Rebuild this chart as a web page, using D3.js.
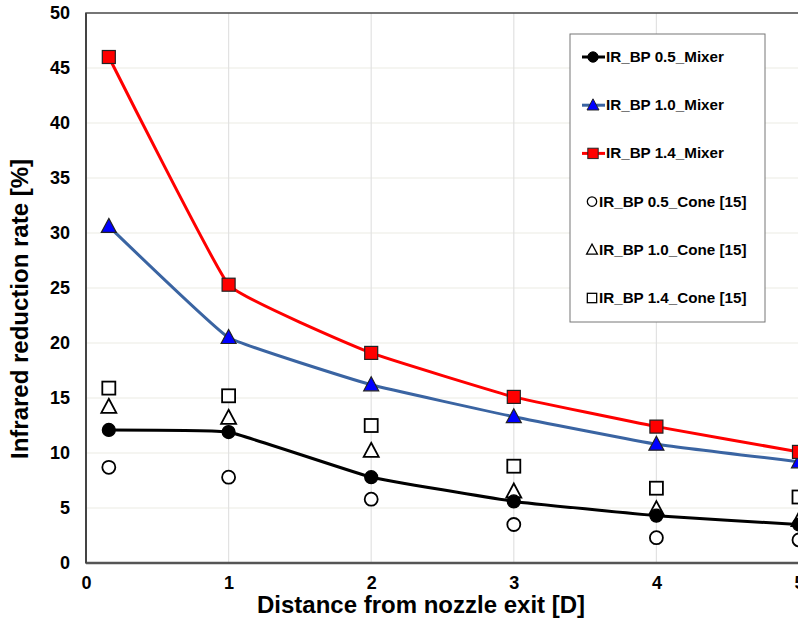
<!DOCTYPE html>
<html>
<head>
<meta charset="utf-8">
<script src="https://cdn.jsdelivr.net/npm/d3@7"></script>
<style>
  body { margin: 0; background: #fff; }
  text { font-family: Arial, "Liberation Sans", sans-serif; font-weight: bold; }
</style>
</head>
<body>
<div id="chart"></div>
<script>
const distances = [0.16, 1, 2, 3, 4, 5];
const mixer05 = [12.1, 11.9, 7.8, 5.6, 4.3, 3.5];
const mixer10 = [30.6, 20.5, 16.2, 13.3, 10.8, 9.2];
const mixer14 = [46.0, 25.3, 19.1, 15.1, 12.4, 10.1];
const cone05 = [8.7, 7.8, 5.8, 3.5, 2.3, 2.1];
const cone10 = [14.2, 13.2, 10.2, 6.5, 4.9, 3.9];
const cone14 = [15.9, 15.2, 12.5, 8.8, 6.8, 6.0];
const xTicks = [0, 1, 2, 3, 4, 5];
const yTicks = [0, 5, 10, 15, 20, 25, 30, 35, 40, 45, 50];

const WIDTH = 798;
const HEIGHT = 625;
const MARGIN = { top: 13, right: -1, bottom: 62, left: 86 };

const series = [
    { name: "IR_BP 0.5_Mixer", values: mixer05, line: "#000", fill: "#000", shape: "circle" },
    { name: "IR_BP 1.0_Mixer", values: mixer10, line: "#3a64a2", fill: "#0000ff", shape: "triangle" },
    { name: "IR_BP 1.4_Mixer", values: mixer14, line: "#ff0000", fill: "#ff0000", shape: "square" },
    { name: "IR_BP 0.5_Cone [15]", values: cone05, line: null, fill: "#fff", shape: "circle" },
    { name: "IR_BP 1.0_Cone [15]", values: cone10, line: null, fill: "#fff", shape: "triangle" },
    { name: "IR_BP 1.4_Cone [15]", values: cone14, line: null, fill: "#fff", shape: "square" }
];

const svg = d3.select("#chart")
    .append("svg")
    .attr("width", WIDTH)
    .attr("height", HEIGHT);

const x = d3.scaleLinear()
    .domain([0, 5])
    .range([MARGIN.left, WIDTH - MARGIN.right]);

const y = d3.scaleLinear()
    .domain([0, 50])
    .range([HEIGHT - MARGIN.bottom, MARGIN.top]);

// grid
svg.append("g")
    .selectAll("line")
    .data(yTicks.slice(1, -1))
    .enter()
    .append("line")
    .attr("x1", x(0)).attr("x2", x(5))
    .attr("y1", d => y(d)).attr("y2", d => y(d))
    .attr("stroke", "#ebebe4")
    .attr("stroke-width", 1.2);

svg.append("g")
    .selectAll("line")
    .data(xTicks.slice(1))
    .enter()
    .append("line")
    .attr("x1", d => x(d)).attr("x2", d => x(d))
    .attr("y1", y(0)).attr("y2", y(50))
    .attr("stroke", "#e2e2e2")
    .attr("stroke-width", 1.2);

// frame
svg.append("rect")
    .attr("x", x(0))
    .attr("y", y(50))
    .attr("width", x(5) - x(0))
    .attr("height", y(0) - y(50))
    .attr("fill", "none")
    .attr("stroke", "#4a4a4a")
    .attr("stroke-width", 1.5);

svg.append("line")
    .attr("x1", x(0)).attr("x2", x(5))
    .attr("y1", y(0)).attr("y2", y(0))
    .attr("stroke", "#555")
    .attr("stroke-width", 2.5);

svg.append("line")
    .attr("x1", x(0)).attr("x2", x(0))
    .attr("y1", y(0)).attr("y2", y(50))
    .attr("stroke", "#444")
    .attr("stroke-width", 2);

// tick labels
const xAxis = svg.append("g")
    .attr("transform", `translate(0,${y(0)})`)
    .call(d3.axisBottom(x).tickValues(xTicks).tickSize(0).tickPadding(13).tickFormat(d3.format("d")));
xAxis.select(".domain").remove();
xAxis.selectAll("text").style("font-size", "18px").attr("fill", "#000")
    .style("font-family", "Arial, 'Liberation Sans', sans-serif").style("font-weight", "bold");

const yAxis = svg.append("g")
    .attr("transform", `translate(${x(0)},0)`)
    .call(d3.axisLeft(y).tickValues(yTicks).tickSize(0).tickPadding(16).tickFormat(d3.format("d")));
yAxis.select(".domain").remove();
yAxis.selectAll("text").style("font-size", "18px").attr("fill", "#000")
    .style("font-family", "Arial, 'Liberation Sans', sans-serif").style("font-weight", "bold");

// axis titles
svg.append("text")
    .attr("x", 421)
    .attr("y", 613)
    .attr("text-anchor", "middle")
    .style("font-size", "24px")
    .text("Distance from nozzle exit [D]");

svg.append("text")
    .attr("transform", `translate(28,309) rotate(-90)`)
    .attr("text-anchor", "middle")
    .style("font-size", "24px")
    .text("Infrared reduction rate [%]");

function drawMarker(g, s, open) {
    const stroke = open ? "#000" : (s.shape === "circle" ? "#000" : "#222");
    const sw = open ? 1.8 : 1.2;
    if (s.shape === "circle") {
        g.append("circle").attr("r", 6.5)
            .attr("fill", s.fill).attr("stroke", stroke).attr("stroke-width", sw);
    } else if (s.shape === "square") {
        g.append("rect").attr("x", -6.5).attr("y", -6.5).attr("width", 13).attr("height", 13)
            .attr("fill", s.fill).attr("stroke", stroke).attr("stroke-width", sw);
    } else {
        g.append("path").attr("d", "M0,-8L7.5,6L-7.5,6Z")
            .attr("fill", s.fill).attr("stroke", stroke).attr("stroke-width", sw);
    }
}

const line = d3.line()
    .x((d, i) => x(distances[i]))
    .y(d => y(d))
    .curve(d3.curveCardinal.tension(0.72));

// open markers first, filled lines on top
series.slice(3).forEach(s => {
    s.values.forEach((v, i) => {
        const g = svg.append("g").attr("transform", `translate(${x(distances[i])},${y(v)})`);
        drawMarker(g, s, true);
    });
});

series.slice(0, 3).forEach(s => {
    svg.append("path")
        .datum(s.values)
        .attr("d", line)
        .attr("fill", "none")
        .attr("stroke", s.line)
        .attr("stroke-width", 3);
    s.values.forEach((v, i) => {
        const g = svg.append("g").attr("transform", `translate(${x(distances[i])},${y(v)})`);
        drawMarker(g, s, false);
    });
});

// legend
const legend = svg.append("g").attr("transform", "translate(570,34)");
legend.append("rect")
    .attr("width", 195)
    .attr("height", 288)
    .attr("fill", "#fff")
    .attr("stroke", "#777")
    .attr("stroke-width", 1);

series.forEach((s, i) => {
    const row = legend.append("g").attr("transform", `translate(0,${23 + i * 48.2})`);
    if (s.line) {
        row.append("line").attr("x1", 12).attr("x2", 35).attr("y1", 0).attr("y2", 0)
            .attr("stroke", s.line).attr("stroke-width", 3);
        const m = row.append("g").attr("transform", "translate(23,0) scale(0.8)");
        drawMarker(m, s, false);
    } else {
        const m = row.append("g").attr("transform", "translate(22,0) scale(0.72)");
        drawMarker(m, s, true);
    }
    row.append("text")
        .attr("x", s.line ? 36 : 29)
        .attr("y", 5)
        .style("font-size", "15.2px")
        .text(s.name);
});
</script>
</body>
</html>
